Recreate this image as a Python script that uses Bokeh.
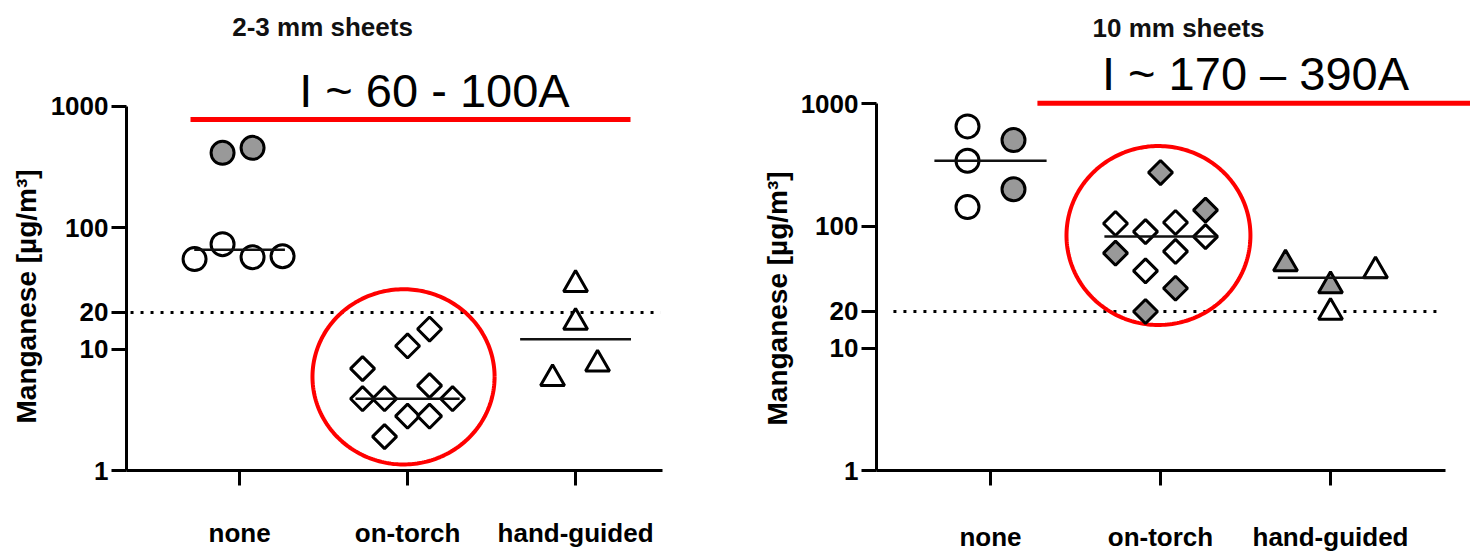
import numpy as np
from bokeh.plotting import figure
from bokeh.layouts import row
from bokeh.models import Range1d, FixedTicker, PrintfTickFormatter, Label, Title
from bokeh.embed import file_html
from bokeh.resources import INLINE

# ---------------------------------------------------------------- data
CATEGORIES = ["none", "on-torch", "hand-guided"]
Y_TICKS = [1, 10, 20, 100, 1000]
LIMIT = 20  # reference level, µg/m³
Y_LABEL = "Manganese [µg/m³]"

# 2-3 mm sheets (I ~ 60-100 A)
thin_none_open = [55, 73, 57, 58]
thin_none_filled = [412, 453]
thin_torch_open = [6.9, 3.9, 3.9, 1.9, 10.6, 2.8, 14.6, 5.0, 2.8, 3.9]
thin_torch_filled = []
thin_hand_open = [5.7, 34, 16.6, 7.5]
thin_hand_filled = []

# 10 mm sheets (I ~ 170-390 A)
thick_none_open = [654, 342, 143]
thick_none_filled = [505, 200]
thick_torch_open = [105, 90, 107, 82, 62, 43]
thick_torch_filled = [274, 135, 60, 31, 20]
thick_hand_open = [19.7, 43]
thick_hand_filled = [49, 32.5]

# ---------------------------------------------------------------- layout
# horizontal scatter of the points inside each column, in pixels
thin_dx = {
    "none": ([-45, -17, 13, 43], [-17, 13]),
    "on-torch": ([-45, -45, -23, -23, 0, 0, 22, 22, 22, 45], []),
    "hand-guided": ([-23, 0, 0, 22], []),
}
thick_dx = {
    "none": ([-23, -23, -23], [23, 23]),
    "on-torch": ([-45, -15, 15, 45, 15, -15], [0, 45, -45, 15, -15]),
    "hand-guided": ([0, 45], [-45, 0]),
}

MARKERS = {"none": "circle", "on-torch": "square", "hand-guided": "triangle"}
SIZES = {"none": 23, "on-torch": 17, "hand-guided": 24}
ANGLES = {"none": 0.0, "on-torch": np.pi / 4, "hand-guided": 0.0}
GREY = "#999999"
FONT = "Liberation Sans"


def ellipse(p, cx, cy, rx, ry_dec):
    t = np.linspace(0, 2 * np.pi, 240)
    xs = cx + rx * np.cos(t)
    ys = 10 ** (np.log10(cy) + ry_dec * np.sin(t))
    p.line(xs, ys, line_color="#ff0000", line_width=4)


def make_panel(groups, dx, geo, title, current):
    unit = geo["unit"]
    x0 = geo["x0"]
    x1 = x0 + geo["frame_w"] / unit
    y_top = 10 ** (geo["frame_h"] / geo["decade"])

    p = figure(width=735, height=554, output_backend="svg", toolbar_location=None,
               y_axis_type="log",
               x_range=Range1d(x0, x1), y_range=Range1d(1, y_top),
               min_border_left=geo["bl"], min_border_right=geo["br"],
               min_border_top=0, min_border_bottom=geo["bb"],
               background_fill_color="white", border_fill_color="white",
               outline_line_color=None)
    p.xgrid.visible = False
    p.ygrid.visible = False

    # axes
    p.yaxis.ticker = FixedTicker(ticks=Y_TICKS)
    p.yaxis.formatter = PrintfTickFormatter(format="%d")
    p.yaxis.bounds = (1, 1000)
    p.yaxis.major_label_standoff = 3

    p.xaxis.ticker = FixedTicker(ticks=[1, 2, 3])
    p.xaxis.major_label_overrides = {i + 1: c for i, c in enumerate(CATEGORIES)}
    p.xaxis.major_label_standoff = geo["x_standoff"]
    p.xaxis.bounds = (x0, geo.get("x_axis_end", x1))

    for ax in (p.xaxis[0], p.yaxis[0]):
        ax.axis_line_width = 3
        ax.axis_line_color = "black"
        ax.major_tick_line_width = 3
        ax.major_tick_line_color = "black"
        ax.major_tick_in = 0
        ax.major_tick_out = 15
        ax.minor_tick_line_color = None
        ax.major_label_text_font = FONT
        ax.major_label_text_font_style = "bold"
        ax.major_label_text_color = "black"
    p.yaxis.major_label_text_font_size = "26px"
    p.xaxis.major_label_text_font_size = "26px"

    # axis title, placed along the 1-1000 span
    p.add_layout(Title(text=Y_LABEL, align="left", offset=geo["ylabel_offset"],
                       standoff=geo["ylabel_standoff"],
                       text_font=FONT, text_font_style="bold",
                       text_font_size="28px", text_color="black"), "left")

    # reference level
    p.segment(x0=[geo["dot_x"][0]], x1=[geo["dot_x"][1]], y0=[LIMIT], y1=[LIMIT],
              line_color="black", line_width=3, line_dash="3 7")

    # highlighted group
    ellipse(p, *geo["ring"])

    # points and medians
    for i, cat in enumerate(CATEGORIES):
        xc = i + 1
        open_v, filled_v = groups[cat]
        open_dx, filled_dx = dx[cat]
        for vals, offs, fill in ((open_v, open_dx, "white"), (filled_v, filled_dx, GREY)):
            if not vals:
                continue
            p.scatter([xc + d / unit for d in offs], vals, marker=MARKERS[cat],
                      size=SIZES[cat], angle=ANGLES[cat], fill_color=fill,
                      line_color="black", line_width=3)
        med = float(np.median(list(open_v) + list(filled_v)))
        hw = geo["half_widths"][i]
        p.segment(x0=[xc - hw], x1=[xc + hw], y0=[med], y1=[med],
                  line_color="#111111", line_width=2.5)

    # current range banner
    bx0, bx1, by = geo["banner"]
    p.segment(x0=[bx0], x1=[bx1], y0=[by], y1=[by], line_color="#ff0000", line_width=5)
    tx, ty = geo["current_pos"]
    p.add_layout(Label(x=tx, y=ty, text=current, text_font=FONT,
                       text_font_size="47px", text_align="center",
                       text_baseline="middle", text_color="black"))
    hx, hy = geo["title_pos"]
    p.add_layout(Label(x=hx, y=hy, text=title, text_font=FONT,
                       text_font_style="bold", text_font_size="26px",
                       text_align="center", text_baseline="middle",
                       text_color="#111111"))
    return p


thin_groups = {
    "none": (thin_none_open, thin_none_filled),
    "on-torch": (thin_torch_open, thin_torch_filled),
    "hand-guided": (thin_hand_open, thin_hand_filled),
}
thick_groups = {
    "none": (thick_none_open, thick_none_filled),
    "on-torch": (thick_torch_open, thick_torch_filled),
    "hand-guided": (thick_hand_open, thick_hand_filled),
}

thin_geo = dict(unit=168.0, x0=0.327, frame_w=536, frame_h=472, decade=122.0,
                bl=126, br=73, bb=82, x_standoff=32,
                ylabel_offset=47, ylabel_standoff=12,
                dot_x=(0.351, 3.506),
                ring=(1.976, 5.9, 0.542, 0.721),
                half_widths=(0.27, 0.31, 0.33),
                banner=(0.708, 3.327, 775),
                current_pos=(2.160, 1352),
                title_pos=(1.494, 4441))

thick_geo = dict(unit=170.0, x0=0.3294, frame_w=594, frame_h=478, decade=124.3,
                 bl=141, br=0, bb=76, x_standoff=36,
                 x_axis_end=3.676,
                 ylabel_offset=45, ylabel_standoff=9,
                 dot_x=(0.429, 3.647),
                 ring=(1.988, 83.7, 0.541, 0.732),
                 half_widths=(0.33, 0.33, 0.31),
                 banner=(1.276, 3.9, 1010),
                 current_pos=(2.559, 1763),
                 title_pos=(2.106, 4170))

p_thin = make_panel(thin_groups, thin_dx, thin_geo, "2-3 mm sheets", "I ~ 60 - 100A")
p_thick = make_panel(thick_groups, thick_dx, thick_geo, "10 mm sheets", "I ~ 170 \u2013 390A")

layout = row(p_thin, p_thick, spacing=0)
open("out.html", "w").write(file_html(layout, INLINE))
